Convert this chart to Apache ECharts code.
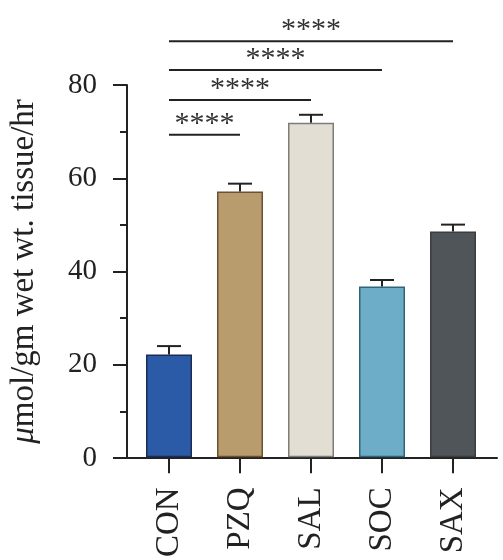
<!DOCTYPE html>
<html><head><meta charset="utf-8">
<script src="https://cdn.jsdelivr.net/npm/echarts@6/dist/echarts.min.js"></script>
<style>html,body{margin:0;padding:0;background:#fff}#c{width:503px;height:560px}</style>
</head><body><div id="c"></div>
<script>
const categories = ['CON', 'PZQ', 'SAL', 'SOC', 'SAX'];
const means = [22.1, 57.1, 71.9, 36.7, 48.5];
const errors = [1.8, 1.7, 1.7, 1.4, 1.5];
const fillColors = ['#2b5aa6', '#b89c6e', '#e2ded4', '#6eadc8', '#50555a'];
const borderColors = ['#1c2d55', '#6a5230', '#7d7c76', '#2f6677', '#3a3d40'];
const yTicks = [0, 20, 40, 60, 80];
const sigFrom = [0, 0, 0, 0];
const sigTo = [1, 2, 3, 4];
const sigLevel = [69.3, 76.8, 83.2, 89.4];
const sigLabels = ['****', '****', '****', '****'];

const serif = '"Liberation Serif", "Times New Roman", Times, serif';
const chart = echarts.init(document.getElementById('c'), null, {renderer: 'canvas'});
const gTop = 85, gBottom = 102;

chart.setOption({
  animation: false,
  grid: [
    {left: 133.5, width: 355, top: gTop, bottom: gBottom},
    {left: 121, right: 6, top: gTop, bottom: gBottom}
  ],
  xAxis: [
    {
      gridIndex: 0, type: 'category', data: categories,
      axisLine: {show: false},
      axisTick: {show: true, alignWithLabel: true, length: 16, lineStyle: {color: '#222', width: 2}},
      axisLabel: {rotate: 90, margin: 30, fontFamily: serif, fontSize: 33, color: '#222'}
    },
    {
      gridIndex: 1, type: 'value', min: 0, max: 1,
      axisLine: {show: true, onZero: false, lineStyle: {color: '#222', width: 2}},
      axisTick: {show: false}, axisLabel: {show: false}, splitLine: {show: false}
    }
  ],
  yAxis: [
    {gridIndex: 0, type: 'value', min: 0, max: 80, show: false},
    {
      gridIndex: 1, type: 'value', min: yTicks[0], max: yTicks[yTicks.length - 1], interval: 20,
      axisLine: {show: true, lineStyle: {color: '#222', width: 2}},
      axisTick: {show: true, length: 14, lineStyle: {color: '#222', width: 2}},
      minorTick: {show: true, splitNumber: 2, length: 7, lineStyle: {color: '#222', width: 2}},
      splitLine: {show: false},
      axisLabel: {margin: 30, fontFamily: serif, fontSize: 29, color: '#222'},
      name: '{i|\u03bc}mol/gm wet wt. tissue/hr',
      nameLocation: 'middle', nameGap: 86,
      nameTextStyle: {fontFamily: serif, fontSize: 33, color: '#222',
        rich: {i: {fontFamily: serif, fontSize: 33, fontStyle: 'italic', color: '#222'}}}
    }
  ],
  series: [
    {
      type: 'bar', xAxisIndex: 0, yAxisIndex: 0, barWidth: 46,
      data: means.map((v, i) => ({value: v, itemStyle: {color: fillColors[i], borderColor: borderColors[i], borderWidth: 1.5}})),
      z: 2
    },
    {
      type: 'custom', xAxisIndex: 0, yAxisIndex: 0, z: 3,
      data: means.map((v, i) => [i, v, errors[i]]),
      encode: {x: 0, y: 1},
      renderItem: function (params, api) {
        const i = api.value(0), m = api.value(1), e = api.value(2);
        const p0 = api.coord([i, m]);
        const p1 = api.coord([i, m + e]);
        const hw = 12;
        return {type: 'group', children: [
          {type: 'line', shape: {x1: p0[0], y1: p0[1], x2: p1[0], y2: p1[1]}, style: {stroke: '#222', lineWidth: 2}},
          {type: 'line', shape: {x1: p1[0] - hw, y1: p1[1], x2: p1[0] + hw, y2: p1[1]}, style: {stroke: '#222', lineWidth: 2}}
        ]};
      }
    },
    {
      type: 'custom', xAxisIndex: 0, yAxisIndex: 0, z: 3, clip: false,
      data: sigFrom.map((f, k) => [f, sigTo[k], sigLevel[k], k]),
      encode: {x: [0, 1], y: 2},
      renderItem: function (params, api) {
        const a = api.coord([api.value(0), api.value(2)]);
        const b = api.coord([api.value(1), api.value(2)]);
        const k = api.value(3);
        return {type: 'group', children: [
          {type: 'line', shape: {x1: a[0], y1: a[1], x2: b[0], y2: b[1]}, style: {stroke: '#222', lineWidth: 2}},
          {type: 'text', x: (a[0] + b[0]) / 2, y: a[1] + 4,
            style: {text: sigLabels[k], fontFamily: serif, fontSize: 30, fill: '#333', align: 'center', verticalAlign: 'bottom'}}
        ]};
      }
    }
  ]
});
</script></body></html>
